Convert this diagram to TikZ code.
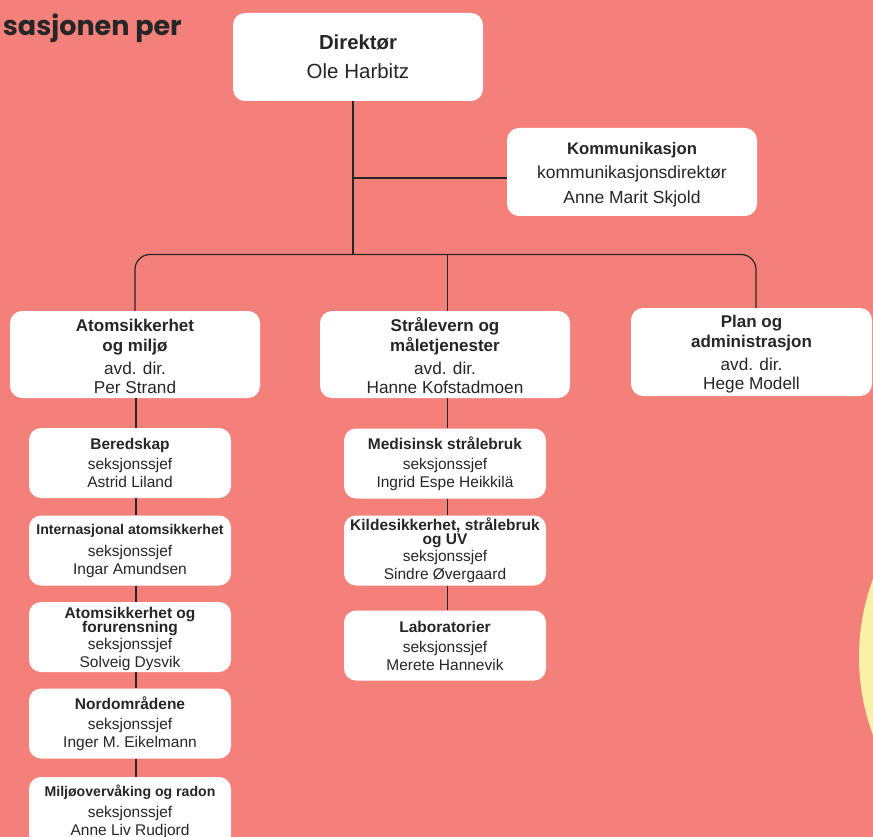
\documentclass[tikz,border=0pt]{standalone}
\usepackage{fontspec}
\setmainfont{Liberation Sans}
\newfontfamily\titlefont{Poppins}
\usepackage{xcolor}
\usetikzlibrary{positioning}
\definecolor{nrpasalmon}{RGB}{244, 128, 122}
\definecolor{nrpayellow}{RGB}{250, 240, 166}
\definecolor{nrpaink}{RGB}{38, 38, 38}
% overskrifter i boksene
\newcommand\thd{\bfseries\fontsize{20.3}{29}\selectfont}
\newcommand\khd{\bfseries\fontsize{16.7}{24.5}\selectfont}
\newcommand\dhd{\bfseries\fontsize{17}{20}\selectfont}
\newcommand\shd{\bfseries\fontsize{15.5}{14}\selectfont}
\newcommand\langhd{\bfseries\fontsize{14.1}{14}\selectfont}
\newcommand\padtop[1]{\rule{0pt}{#1}}

\begin{document}
\begin{tikzpicture}[x=1pt, y=-1pt,
  unit/.style={rectangle, fill=white, rounded corners=12pt,
    align=center, text=nrpaink, inner sep=0pt},
  topbox/.style={unit, minimum width=250pt, minimum height=88pt,
    font=\fontsize{20.5}{29}\selectfont},
  kommbox/.style={unit, minimum width=250pt, minimum height=88pt,
    font=\fontsize{17.5}{24.5}\selectfont},
  deptbox/.style={unit, minimum width=250pt, minimum height=87pt,
    font=\fontsize{17.2}{19.5}\selectfont},
  secbox/.style={unit, minimum width=202pt, minimum height=70pt,
    font=\fontsize{15.5}{18}\selectfont},
  link/.style={draw=nrpaink, line width=1.2pt}
]
  \useasboundingbox (0,0) rectangle (873,837);
  \clip (0,0) rectangle (873,837);
  \fill[nrpasalmon] (0,0) rectangle (873,837);
  \fill[nrpayellow] (1083,657) circle (224);

  \node[anchor=base east, font=\titlefont\bfseries\fontsize{27}{30}\selectfont,
    text=nrpaink, inner sep=0pt] (title) at (182,36) {sasjonen per};

  % ledelse
  \node[topbox] (dir) at (358,57)
    {\thd Direktør\\Ole Harbitz};
  \node[kommbox] (komm) at (632,172)
    {\khd\padtop{17.3pt}Kommunikasjon\\kommunikasjonsdirektør\\Anne Marit Skjold};

  % avdelinger
  \node[deptbox] (atom) at (135,354.5)
    {\dhd\padtop{16.5pt}Atomsikkerhet\\\dhd og miljø\\[3.5pt]avd. dir.\\Per Strand};
  \node[deptbox] (stra) at (445,354.5)
    {\dhd\padtop{16.5pt}Strålevern og\\\dhd måletjenester\\[3.5pt]avd. dir.\\Hanne Kofstadmoen};
  \node[deptbox, minimum width=241pt, minimum height=88pt] (plan) at (751.5,352)
    {\dhd\padtop{17pt}Plan og\\\dhd administrasjon\\[3.5pt]avd. dir.\\Hege Modell};

  % seksjoner
  \node[secbox] (ber) at (130,463)
    {\shd Beredskap\\[2pt]seksjonssjef\\Astrid Liland};
  \node[secbox] (int) at (130,550.5)
    {\langhd Internasjonal atomsikkerhet\\[4pt]seksjonssjef\\Ingar Amundsen};
  \node[secbox] (forur) at (130,637)
    {\shd\padtop{15pt}Atomsikkerhet og\\[-4pt]\shd forurensning\\[-1pt]seksjonssjef\\Solveig Dysvik};
  \node[secbox] (nord) at (130,723.5)
    {\shd\padtop{14pt}Nordområdene\\[2pt]seksjonssjef\\Inger M. Eikelmann};
  \node[secbox] (milj) at (130,812)
    {\langhd Miljøovervåking og radon\\[3pt]seksjonssjef\\Anne Liv Rudjord};

  \node[secbox] (med) at (445,463.5)
    {\shd Medisinsk strålebruk\\[2pt]seksjonssjef\\Ingrid Espe Heikkilä};
  \node[secbox] (kilde) at (445,550.5)
    {\shd Kildesikkerhet, strålebruk\\[-4pt]\shd og UV\\[-1pt]seksjonssjef\\Sindre Øvergaard};
  \node[secbox] (lab) at (445,645.5)
    {\shd Laboratorier\\[2pt]seksjonssjef\\Merete Hannevik};

  % linjer
  \coordinate (bus) at (353,254.5);
  \coordinate (kj) at (353,178);
  \coordinate (busend) at (756,254.5);
  \coordinate (lcol) at (136,0);
  \coordinate (mcol) at (447.5,0);
  \draw[link] (dir.south -| bus) -- (bus);
  \draw[link] (kj) -- (kj -| komm.west);
  \draw[link, rounded corners=15pt] (atom.north) |- (bus) -- (busend) -- (busend |- plan.north);
  \draw[link] (bus -| mcol) -- (stra.north -| mcol);
  \draw[link] (atom.south -| lcol) -- (ber.north -| lcol);
  \foreach \a/\b in {ber/int, int/forur, forur/nord, nord/milj}
    \draw[link] (\a.south -| lcol) -- (\b.north -| lcol);
  \draw[link] (stra.south -| mcol) -- (med.north -| mcol);
  \foreach \a/\b in {med/kilde, kilde/lab}
    \draw[link] (\a.south -| mcol) -- (\b.north -| mcol);
\end{tikzpicture}
\end{document}
